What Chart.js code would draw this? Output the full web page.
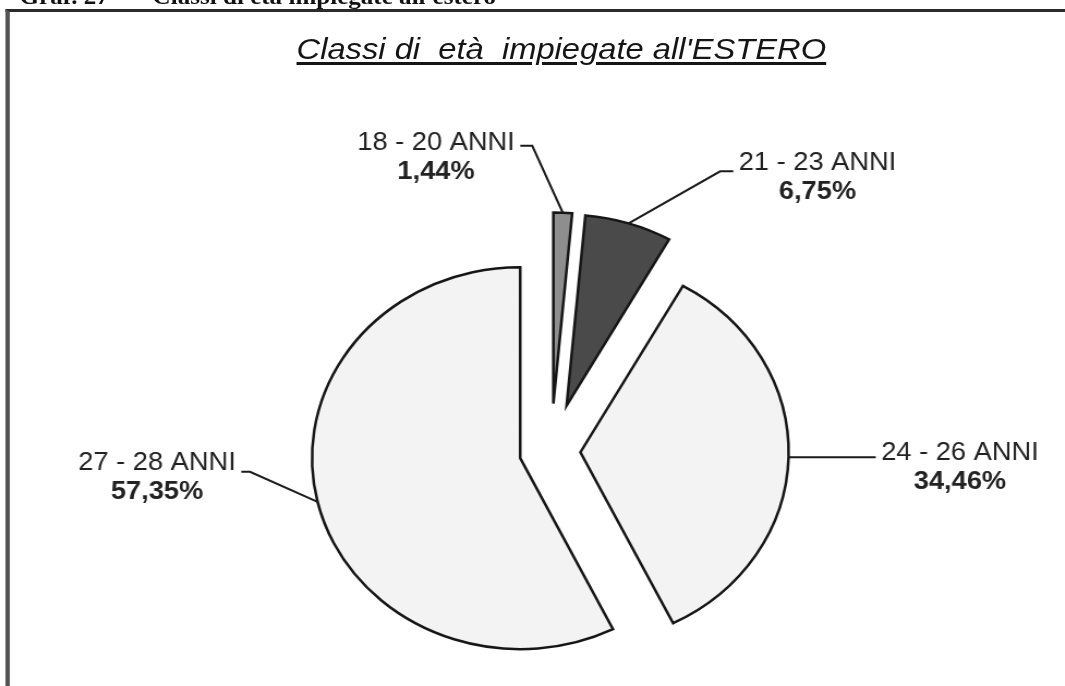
<!DOCTYPE html>
<html lang="it">
<head>
<meta charset="utf-8">
<title>Classi di età impiegate all'estero</title>
<script src="https://cdn.jsdelivr.net/npm/chart.js@4.4.1/dist/chart.umd.min.js"></script>
<style>
  html, body { margin: 0; padding: 0; background: #fff; overflow: hidden; }
  body { width: 1065px; height: 686px; position: relative; }
  /* the scanned chart is about 9% wider than tall, so the sheet is laid out narrow and widened */
  .sheet { position: absolute; left: 0; top: 0; width: 977px; height: 686px; transform: scaleX(1.09); transform-origin: 0 0; }
  .caption { position: absolute; left: 18px; top: -15px; font: bold 23px/1 "Liberation Serif", "Times New Roman", serif; color: #111; white-space: pre; }
  .frame { position: absolute; left: 5px; top: 9px; width: 1000px; height: 720px; border-top: 3px solid #2b2b2b; border-left: 4px solid #555; }
  .title { position: absolute; left: 515px; top: 34px; transform: translateX(-50%); white-space: pre;
           font: italic 30px/1 "Liberation Sans", Arial, sans-serif; color: #151515;
           text-decoration: underline; text-decoration-thickness: 3px; text-underline-offset: 3px; }
  canvas { position: absolute; left: 0; top: 0; }
</style>
</head>
<body>
<div class="sheet">
  <div class="caption">Graf. 27  –   Classi di età impiegate all'estero</div>
  <div class="frame"></div>
  <div class="title">Classi di  età  impiegate all'ESTERO</div>
  <canvas id="pie" width="977" height="686"></canvas>
</div>
<script>
/* ─── DATA ─── */
const categories = ['18 - 20 ANNI', '21 - 23 ANNI', '24 - 26 ANNI', '27 - 28 ANNI'];
const shares = [1.44, 6.75, 34.46, 57.35];
const sliceColors = ['#8e8e8e', '#4a4a4a', '#f3f3f3', '#f3f3f3'];

const LABEL_FONT = '"Liberation Sans", Arial, sans-serif';
const pct = v => v.toLocaleString('it-IT', { minimumFractionDigits: 2, maximumFractionDigits: 2 }) + '%';

/* pull every slice out along its own bisector */
const explodePlugin = {
  id: 'explode',
  beforeDatasetsDraw(chart, args, opts) {
    const { left, right, top, bottom } = chart.chartArea;
    const cx = (left + right) / 2, cy = (top + bottom) / 2;
    chart.getDatasetMeta(0).data.forEach((arc, i) => {
      const mid = (arc.startAngle + arc.endAngle) / 2;
      const d = opts.distance[i] || 0;
      arc.x = cx + Math.cos(mid) * d;
      arc.y = cy + Math.sin(mid) * d;
    });
  }
};

/* category + percentage with a leader line from the slice edge */
const leaderLabels = {
  id: 'leaderLabels',
  afterDatasetsDraw(chart, args, opts) {
    const ctx = chart.ctx;
    ctx.save();
    chart.getDatasetMeta(0).data.forEach((arc, i) => {
      const mid = (arc.startAngle + arc.endAngle) / 2;
      const ax = arc.x + Math.cos(mid) * arc.outerRadius;
      const ay = arc.y + Math.sin(mid) * arc.outerRadius;
      const l = opts.leaders[i];
      const ex = ax + l.dx, ey = ay + l.dy, tx = ex + l.tail;
      ctx.strokeStyle = '#1a1a1a';
      ctx.lineWidth = 2;
      ctx.beginPath();
      ctx.moveTo(ax, ay); ctx.lineTo(ex, ey); ctx.lineTo(tx, ey);
      ctx.stroke();

      const side = l.tail < 0 ? -1 : 1;
      ctx.font = '25px ' + LABEL_FONT;
      const w = ctx.measureText(categories[i]).width;
      const cxT = tx + side * (5 + w / 2);
      ctx.fillStyle = '#222';
      ctx.textAlign = 'center';
      ctx.textBaseline = 'middle';
      ctx.fillText(categories[i], cxT, ey + l.ty);
      ctx.font = 'bold 25px ' + LABEL_FONT;
      ctx.fillText(pct(shares[i]), cxT, ey + l.ty + 29);
    });
    ctx.restore();
  }
};

new Chart(document.getElementById('pie'), {
  type: 'pie',
  data: {
    labels: categories,
    datasets: [{
      data: shares,
      backgroundColor: sliceColors,
      borderColor: '#161616',
      borderWidth: 2.5,
      borderJoinStyle: 'miter',
      hoverOffset: 0
    }]
  },
  options: {
    responsive: false, animation: false, devicePixelRatio: 1, events: [],
    radius: 191,
    layout: { padding: { left: 34, right: 0, top: 217, bottom: 0 } },
    plugins: {
      legend: { display: false },
      tooltip: { enabled: false },
      explode: { distance: [48, 48, 27, 29] },
      leaderLabels: {
        leaders: [
          { dx: -28, dy: -67, tail: -11, ty: -3 },
          { dx: 84, dy: -52, tail: 12, ty: -8 },
          { dx: 0, dy: 0, tail: 80, ty: -4 },
          { dx: -62, dy: -30, tail: -8, ty: -9 }
        ]
      }
    }
  },
  plugins: [explodePlugin, leaderLabels]
});
</script>
</body>
</html>
